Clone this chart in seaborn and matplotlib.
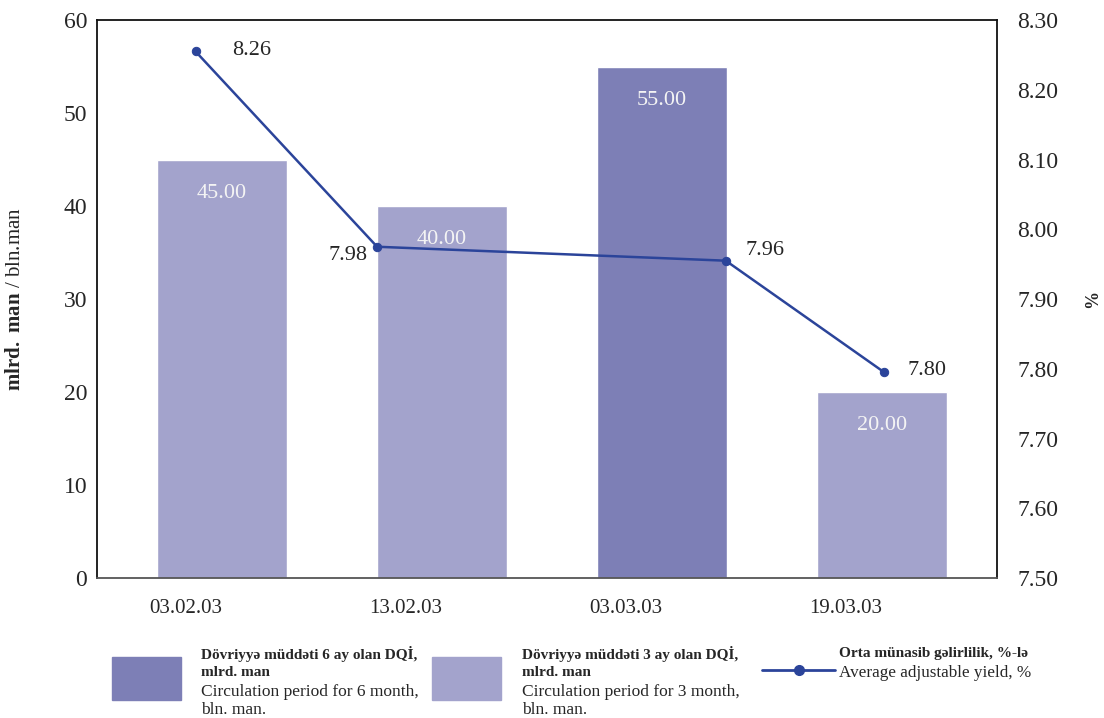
import matplotlib
matplotlib.use("Agg")
import matplotlib.pyplot as plt
import seaborn as sns
import pandas as pd
from matplotlib.patches import Rectangle
from matplotlib.lines import Line2D

# data
dates = ["03.02.03", "13.02.03", "03.03.03", "19.03.03"]
volume = [45.0, 40.0, 55.0, 20.0]
period = ["3 month", "3 month", "6 month", "3 month"]
yield_pct = [8.255, 7.975, 7.955, 7.795]
yield_labels = ["8.26", "7.98", "7.96", "7.80"]
# line points sit on the category axis but not on the bar centres
yield_x = [-0.12, 0.705, 2.29, 3.01]

dark = "#7d7fb6"
light = "#a3a3cc"
line_col = "#2b449a"

sns.set_style("white")
plt.rcParams["font.family"] = ["Liberation Serif", "DejaVu Serif"]
plt.rcParams["mathtext.fontset"] = "custom"
plt.rcParams["mathtext.rm"] = "Liberation Serif"
plt.rcParams["mathtext.bf"] = "Liberation Serif:bold"

df = pd.DataFrame({"date": dates, "volume": volume, "period": period})

fig = plt.figure(figsize=(11.04, 7.18), dpi=100)
ax = fig.add_axes([0.0879, 0.195, 0.8152, 0.777])

sns.barplot(data=df, x="date", y="volume", hue="period", dodge=False,
            palette={"6 month": dark, "3 month": light}, width=0.59,
            saturation=1, legend=False, ax=ax)

for cont in ax.containers:
    ax.bar_label(cont, labels=[f"{v:.2f}" if v == v else "" for v in cont.datavalues],
                 label_type="edge", padding=-31, color="#f4f4f4", fontsize=16)

ax.set_xlim(-0.568, 3.523)
ax.set_ylim(0, 60)

# x: tick marks between the categories, labels sit under the bar's left part
ax.set_xticks([0.5, 1.5, 2.5])
ax.set_xticklabels([])
ax.set_xticks([i - 0.166 for i in range(4)], minor=True)
ax.set_xticklabels(dates, minor=True)
ax.tick_params(axis="x", which="major", direction="inout", length=13, width=1, color="#222")
ax.tick_params(axis="x", which="minor", length=0, pad=15, labelsize=15)

# y: labels at every 10, marks only on the inner ones
ax.set_yticks(range(0, 61, 10))
ax.set_yticks(range(10, 51, 10), minor=True)
ax.tick_params(axis="y", which="major", length=0, labelsize=17, pad=7)
ax.tick_params(axis="y", which="minor", direction="inout", length=13, width=1, color="#222")
ax.set_xlabel("")
ax.set_ylabel(r"$\mathbf{mlrd.}$ $\mathbf{man}$ / bln.man", fontsize=15)
ax.yaxis.set_label_coords(-0.08, 0.5)
for s in ax.spines.values():
    s.set_color("#111")
    s.set_linewidth(1.3)
ax.spines["bottom"].set_color("#555")

ax2 = ax.twinx()
sns.lineplot(x=yield_x, y=yield_pct, ax=ax2, color=line_col, linewidth=1.8,
             marker="o", markersize=6, markeredgecolor=line_col, sort=False)
ax2.set_ylim(7.5, 8.3)
ax2.set_yticks([7.5 + 0.1 * i for i in range(9)])
ax2.set_yticklabels([f"{7.5 + 0.1 * i:.2f}" for i in range(9)])
ax2.set_yticks([7.6 + 0.1 * i for i in range(7)], minor=True)
ax2.tick_params(axis="y", which="major", length=0, labelsize=17, pad=14.5)
ax2.tick_params(axis="y", which="minor", direction="inout", length=13, width=1, color="#222")
ax2.set_ylabel("%", fontsize=13, fontweight="bold")
ax2.yaxis.set_label_coords(1.097, 0.5)
for s in ax2.spines.values():
    s.set_visible(False)

offsets = [(26.5, 1), (-7, -6), (14, 7), (16.5, 1.5)]
aligns = ["left", "right", "left", "left"]
for x, y, lab, off, ha in zip(yield_x, yield_pct, yield_labels, offsets, aligns):
    ax2.annotate(lab, (x, y), xytext=off, textcoords="offset points",
                 fontsize=16, ha=ha, va="center")

# legend drawn below the axes
fig.add_artist(Rectangle((112 / 1104, 1 - 700 / 718), 69 / 1104, 43 / 718,
                         transform=fig.transFigure, color=dark))
fig.add_artist(Rectangle((432 / 1104, 1 - 700 / 718), 69 / 1104, 43 / 718,
                         transform=fig.transFigure, color=light))
fig.add_artist(Line2D([762 / 1104, 835 / 1104], [1 - 670 / 718, 1 - 670 / 718],
                      transform=fig.transFigure, color=line_col, linewidth=2))
fig.add_artist(Line2D([798.5 / 1104], [1 - 670 / 718], transform=fig.transFigure,
                      color=line_col, marker="o", markersize=7, linestyle="none"))

leg_texts = [
    (201, ["Dövriyyə müddəti 6 ay olan DQİ,", "mlrd. man"],
     ["Circulation period for 6 month,", "bln. man."], 12.5, 654),
    (522, ["Dövriyyə müddəti 3 ay olan DQİ,", "mlrd. man"],
     ["Circulation period for 3 month,", "bln. man."], 12.5, 654),
    (839, ["Orta münasib gəlirlilik, %-lə"], ["Average adjustable yield, %"], 12.3, 654),
]
for x, bold_lines, reg_lines, reg_size, y in leg_texts:
    for ln in bold_lines:
        fig.text(x / 1104, 1 - y / 718, ln, fontsize=11, fontweight="bold", va="center")
        y += 19
    for ln in reg_lines:
        fig.text(x / 1104, 1 - y / 718, ln, fontsize=reg_size, va="center")
        y += 18.5

fig.savefig("out.png", dpi=100)
